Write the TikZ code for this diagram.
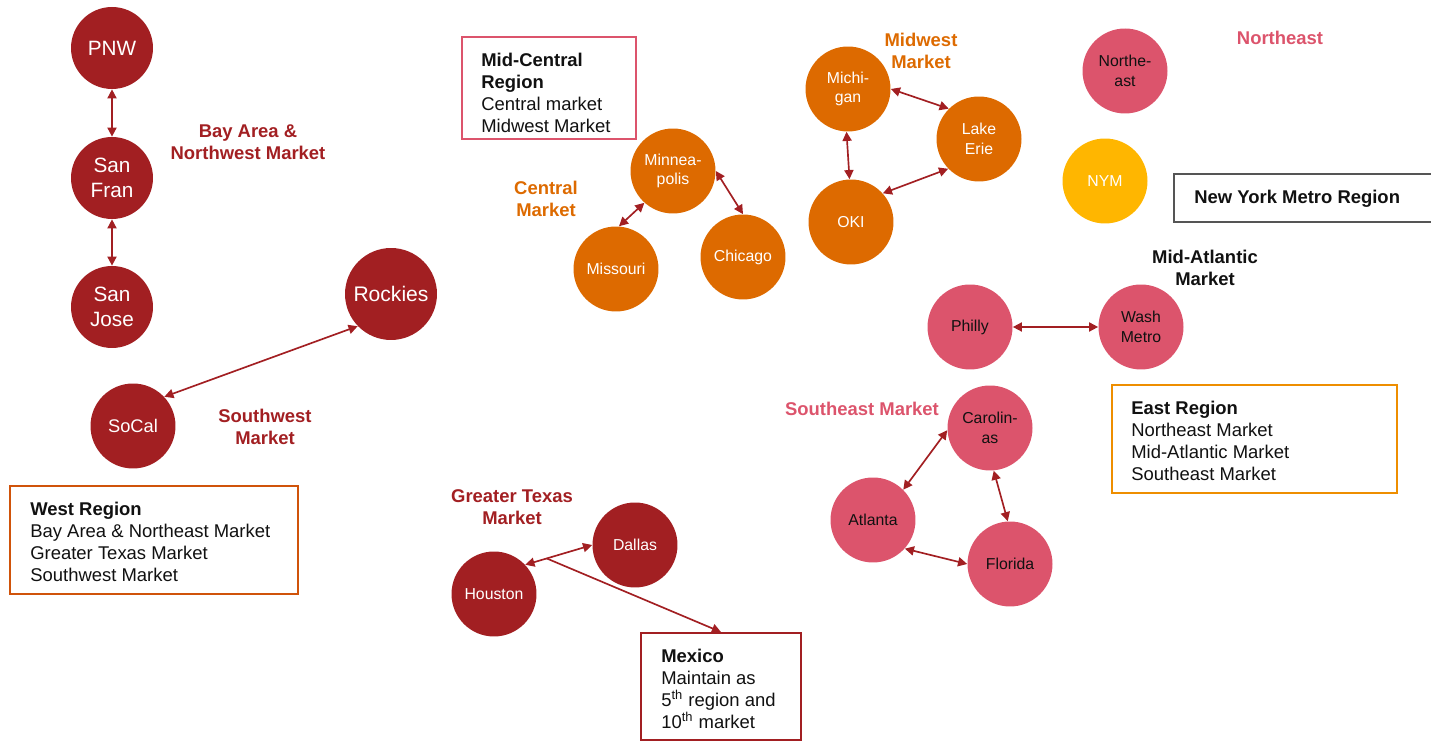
\documentclass[tikz,border=0pt]{standalone}
\usepackage{fontspec}
\setmainfont{Liberation Sans}
\usetikzlibrary{arrows.meta}
\definecolor{mred}{HTML}{A21F22}
\definecolor{morange}{HTML}{DD6A00}
\definecolor{mpink}{HTML}{DC546C}
\definecolor{myellow}{HTML}{FFB600}
\definecolor{wborder}{HTML}{D0530A}
\definecolor{eborder}{HTML}{EE8E00}
\definecolor{nyborder}{HTML}{555555}
\definecolor{ink}{HTML}{111111}

\begin{document}
\begin{tikzpicture}[x=0.02cm,y=-0.02cm,
  city/.style={circle, inner sep=0pt, minimum size=1.7cm, align=center,
    font=\fontsize{9}{11.2}\selectfont},
  bigtext/.style={minimum size=1.64cm, font=\fontsize{11.8}{14.2}\selectfont},
  redcity/.style={city, fill=mred, text=white},
  orangecity/.style={city, fill=morange, text=white},
  pinkcity/.style={city, fill=mpink, text=ink},
  yellowcity/.style={city, fill=myellow, text=white},
  mktlabel/.style={align=center, inner sep=0pt, font=\bfseries\fontsize{10.5}{12.5}\selectfont},
  regionbox/.style={draw, line width=1.1pt, inner sep=0pt, fill=white},
  boxtext/.style={align=left, anchor=north west, inner sep=0pt, text=ink,
    font=\fontsize{10.5}{12.5}\selectfont},
  link/.style={mred, line width=0.95pt,
    {Triangle[length=5.2pt,width=5.2pt]}-{Triangle[length=5.2pt,width=5.2pt]}},
  onelink/.style={mred, line width=0.95pt, -{Triangle[length=5.2pt,width=5.2pt]}},
]
\useasboundingbox (0,0) rectangle (1431,742);

% ---------- region boxes ----------
\node[regionbox, draw=mpink, minimum width=3.48cm, minimum height=2.04cm] (midcentral) at (549,88) {};
\node[boxtext] (midcentraltext) at (481,52.5) {\textbf{Mid-Central}\\\textbf{Region}\\Central market\\Midwest Market};

\node[regionbox, draw=nyborder, minimum width=5.42cm, minimum height=0.96cm] (nybox) at (1309.5,198) {};
\node[boxtext] (nytext) at (1194,189.5) {\textbf{New York Metro Region}};

\node[regionbox, draw=eborder, minimum width=5.70cm, minimum height=2.16cm] (eastbox) at (1254.5,439) {};
\node[boxtext] (easttext) at (1131,400.5) {\textbf{East Region}\\Northeast Market\\Mid-Atlantic Market\\Southeast Market};

\node[regionbox, draw=wborder, minimum width=5.76cm, minimum height=2.16cm] (westbox) at (154,540) {};
\node[boxtext] (westtext) at (30,501.5) {\textbf{West Region}\\Bay Area \& Northeast Market\\Greater Texas Market\\Southwest Market};

\node[regionbox, draw=mred, minimum width=3.2cm, minimum height=2.14cm] (mexbox) at (721,686.5) {};
\node[boxtext] (mextext) at (661,648.5) {\textbf{Mexico}\\Maintain as\\5\textsuperscript{th} region and\\10\textsuperscript{th} market};

% ---------- market labels ----------
\node[mktlabel, text=mred] (baylbl) at (248,142) {Bay Area \&\\Northwest Market};
\node[mktlabel, text=mred] (swlbl) at (265,427) {Southwest\\Market};
\node[mktlabel, text=morange] (centrallbl) at (546,199) {Central\\Market};
\node[mktlabel, text=morange] (midwestlbl) at (921,51) {Midwest\\Market};
\node[mktlabel, text=mpink] (nelbl) at (1280,38) {Northeast};
\node[mktlabel, text=ink] (malbl) at (1205,268) {Mid-Atlantic\\Market};
\node[mktlabel, text=mpink] (selbl) at (862,409) {Southeast Market};
\node[mktlabel, text=mred] (txlbl) at (512,507) {Greater Texas\\Market};

% ---------- west ----------
\node[redcity, bigtext] (pnw) at (112,48) {PNW};
\node[redcity, bigtext] (sanfran) at (112,178) {San\\Fran};
\node[redcity, bigtext] (sanjose) at (112,307) {San\\Jose};
\node[redcity, bigtext, minimum size=1.84cm, font=\fontsize{12}{14}\selectfont] (rockies) at (391,294) {Rockies};
\node[redcity, font=\fontsize{10.4}{12}\selectfont] (socal) at (133,426) {SoCal};
\node[redcity] (houston) at (494,594) {Houston};
\node[redcity] (dallas) at (635,545) {Dallas};

% ---------- central / midwest ----------
\node[orangecity] (minneapolis) at (673,171) {Minnea-\\polis};
\node[orangecity] (missouri) at (616,269) {Missouri};
\node[orangecity] (chicago) at (743,257) {Chicago};
\node[orangecity] (michigan) at (848,89) {Michi-\\gan};
\node[orangecity] (lakeerie) at (979,139) {Lake\\Erie};
\node[orangecity] (oki) at (851,222) {OKI};

% ---------- east ----------
\node[pinkcity] (northeast) at (1125,71) {Northe-\\ast};
\node[yellowcity] (nym) at (1105,181) {NYM};
\node[pinkcity] (philly) at (970,327) {Philly};
\node[pinkcity] (wash) at (1141,327) {Wash\\Metro};
\node[pinkcity] (carolinas) at (990,428) {Carolin-\\as};
\node[pinkcity] (atlanta) at (873,520) {Atlanta};
\node[pinkcity] (florida) at (1010,564) {Florida};

% ---------- connectors ----------
\draw[link] (pnw.south) -- (sanfran.north);
\draw[link] (sanfran.south) -- (sanjose.north);
\draw[link] (rockies.224) -- (socal.43);
\draw[link] (houston.43) -- coordinate[pos=0.32] (split) (dallas.180);
\draw[onelink] (split) -- (mexbox.north);
\draw[link] (minneapolis.228) -- (missouri.86);
\draw[link] (minneapolis.0) -- (chicago.90);
\draw[link] (michigan.0) -- (lakeerie.135);
\draw[link] (michigan.268) -- (oki.92);
\draw[link] (lakeerie.224) -- (oki.42);
\draw[link] (philly.east) -- (wash.west);
\draw[link] (carolinas.183) -- (atlanta.45);
\draw[link] (carolinas.275) -- (florida.93);
\draw[link] (atlanta.318) -- (florida.180);
\end{tikzpicture}
\end{document}
